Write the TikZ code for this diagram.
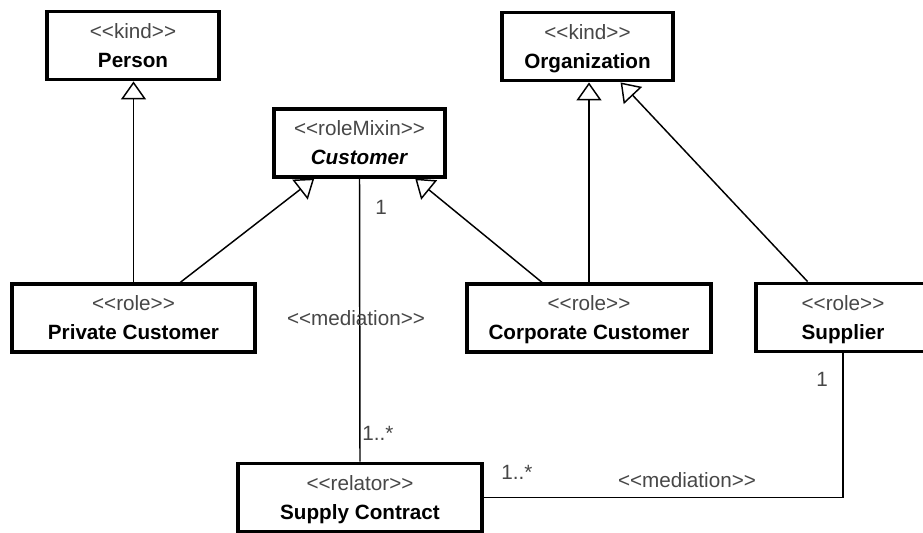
\documentclass[tikz,border=0pt]{standalone}
\usepackage{fontspec}
\setmainfont{Liberation Sans}
\usetikzlibrary{arrows.meta,calc}
\newcommand\lt{\textless\kern0pt}
\newcommand\gt{\kern0pt\textgreater}
\newcommand\stp[1]{{\color{black!72}\lt\lt#1\gt\gt}}
\tikzset{
  cls/.style={draw=black, line width=2.4pt, fill=white, rectangle, align=center, inner sep=0pt,
    font=\fontsize{15.5pt}{21.75pt}\selectfont, minimum height=51.5pt, text depth=0pt},
  gen/.style={line width=1.1pt, -{Triangle[open,length=13.5pt,width=18.75pt,line width=1.1pt]}},
  assoc/.style={line width=1.1pt},
  lbl/.style={font=\fontsize{15.5pt}{18pt}\selectfont, text=black!72, inner sep=0pt}
}
\begin{document}
\begin{tikzpicture}[x=0.75pt,y=-0.75pt]
\useasboundingbox (0,0) rectangle (923,532);
\fill[white] (0,0) rectangle (923,532);
% classes
\node[cls, minimum width=129pt] (person) at (133,45.5) {\stp{kind}\\\textbf{Person}};
\node[cls, minimum width=128.25pt] (org) at (587.5,46.5) {\stp{kind}\\\textbf{Organization}};
\node[cls, minimum width=128.25pt, minimum height=51pt] (cust) at (359.5,143) {\stp{roleMixin}\\\textbf{\textit{Customer}}};
\node[cls, minimum width=182.25pt, minimum height=51pt] (pc) at (133.5,318) {\stp{role}\\\textbf{Private Customer}};
\node[cls, minimum width=183pt, minimum height=51pt] (cc) at (589,318) {\stp{role}\\\textbf{Corporate Customer}};
\node[cls, minimum width=130.5pt] (sup) at (843,317.5) {\stp{role}\\\textbf{Supplier}};
\node[cls, minimum width=183pt] (sc) at (360,497.5) {\stp{relator}\\\textbf{Supply Contract}};
% generalizations
\draw[gen] (pc.north) -- (pc.north |- person.south);
\draw[gen] ($(pc.north west)!0.69!(pc.north east)$) -- ($(cust.south west)!0.24!(cust.south east)$);
\draw[gen] ($(cc.north west)!0.31!(cc.north east)$) -- ($(cust.south west)!0.82!(cust.south east)$);
\draw[gen] (cc.north) -- (cc.north |- org.south);
\draw[gen] ($(sup.north west)!0.30!(sup.north east)$) -- ($(org.south west)!0.69!(org.south east)$);
% mediations
\draw[assoc] (cust.south) -- (sc.north);
\coordinate (corner) at (sc.east -| sup.south);
\draw[assoc] (sc.east) -- (corner) -- (sup.south);
% labels
\node[lbl] (med1) at (356,318) {\lt\lt mediation\gt\gt};
\node[lbl] (m1a) at (381,207) {1};
\node[lbl] (m1b) at (378,433) {1..*};
\node[lbl] (m2a) at (822,379) {1};
\node[lbl] (m2b) at (517,472) {1..*};
\node[lbl] (med2) at (687,480) {\lt\lt mediation\gt\gt};
\end{tikzpicture}
\end{document}
